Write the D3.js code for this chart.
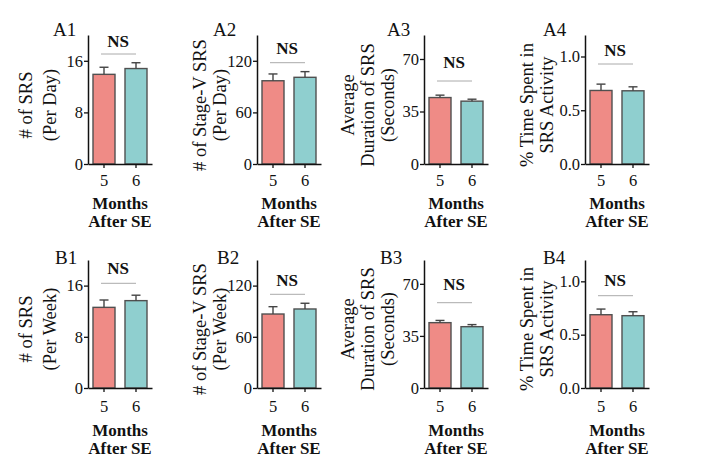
<!DOCTYPE html>
<html><head><meta charset="utf-8">
<script src="https://cdn.jsdelivr.net/npm/d3@7"></script>
<style>body{margin:0;background:#fff}svg{display:block}text{font-family:"Liberation Serif","Times New Roman",serif;fill:#111}</style>
</head><body><svg id="c" width="705" height="473"></svg>
<script>
// ---- data ----
const groups = ["5", "6"];
const panelNames = ["A1","A2","A3","A4","B1","B2","B3","B4"];

const a1Means = [13.9, 14.8],  a1Sem = [1.1, 0.9];
const a2Means = [96.8, 100.8], a2Sem = [7.9, 6.6];
const a3Means = [44.3, 41.9],  a3Sem = [1.6, 1.3];
const a4Means = [0.684, 0.681], a4Sem = [0.059, 0.037];
const b1Means = [12.6, 13.65], b1Sem = [1.15, 0.85];
const b2Means = [86.7, 92.6],  b2Sem = [8.6, 6.7];
const b3Means = [43.9, 41.2],  b3Sem = [1.5, 1.4];
const b4Means = [0.687, 0.678], b4Sem = [0.053, 0.037];

const ticks1 = [0, 8, 16];
const ticks2 = [0, 60, 120];
const ticks3 = [0, 35, 70];
const ticks4 = [0, 0.5, 1.0];
const domMax = [20, 150, 86, 1.2];

const yLabelsA = [["# of SRS","(Per Day)"],["# of Stage-V SRS","(Per Day)"],["Average","Duration of SRS","(Seconds)"],["% Time Spent in","SRS Activity"]];
const yLabelsB = [["# of SRS","(Per Week)"],["# of Stage-V SRS","(Per Week)"],["Average","Duration of SRS","(Seconds)"],["% Time Spent in","SRS Activity"]];
const xLabelLines = ["Months", "After SE"];
const sigText = "NS";

// ---- layout ----
const colX0 = [88, 257, 424, 585];
const rowY = [{top:35, bottom:164, tickDy:18, mDy:39}, {top:260, bottom:388, tickDy:20, mDy:42}];
const ylabX = [[-62,-38],[-57,-37],[-76,-56,-36],[-58,-38]];
const panelLabelX = [[53,213,387,543],[55,217,380,543]];
const panelLabelY = [29, 257];
const nsLineY = [[54,62.7,81,64],[283.3,294.3,302.7,295.7]];
const nsTextDy = [[13,14,19,14],[15,14,18,15]];
const barColors = ["#ef8b86", "#8fcfcf"];
const axisW = 64;

const meansAll = [a1Means,a2Means,a3Means,a4Means,b1Means,b2Means,b3Means,b4Means];
const semAll = [a1Sem,a2Sem,a3Sem,a4Sem,b1Sem,b2Sem,b3Sem,b4Sem];
const ticksAll = [ticks1,ticks2,ticks3,ticks4];

const svg = d3.select("#c");

panelNames.forEach((name, i) => {
  const r = Math.floor(i / 4), c = i % 4;
  const x0 = colX0[c], R = rowY[r];
  const means = meansAll[i], sem = semAll[i];
  const data = groups.map((g, k) => ({g, m: means[k], s: sem[k], k}));

  const x = d3.scaleBand().domain(groups).range([x0, x0 + axisW]).paddingInner(0.3125).paddingOuter(0.15625);
  const y = d3.scaleLinear().domain([0, domMax[c]]).range([R.bottom, R.top]);
  const g = svg.append("g");

  // bars
  g.selectAll("rect.bar").data(data).join("rect").attr("class","bar")
    .attr("x", d => x(d.g)).attr("width", x.bandwidth())
    .attr("y", d => y(d.m)).attr("height", d => y(0) - y(d.m))
    .attr("fill", d => barColors[d.k]).attr("stroke", "#505050").attr("stroke-width", 1.4);

  // error bars (upper)
  const eb = g.selectAll("g.eb").data(data).join("g").attr("class","eb")
    .attr("stroke", "#444").attr("stroke-width", 1.4);
  eb.append("line").attr("x1", d => x(d.g) + x.bandwidth()/2).attr("x2", d => x(d.g) + x.bandwidth()/2)
    .attr("y1", d => y(d.m)).attr("y2", d => y(d.m + d.s));
  eb.append("line").attr("x1", d => x(d.g) + x.bandwidth()/2 - 4.5).attr("x2", d => x(d.g) + x.bandwidth()/2 + 4.5)
    .attr("y1", d => y(d.m + d.s)).attr("y2", d => y(d.m + d.s));

  // axes
  const fmt = c === 3 ? d3.format(".1f") : d3.format("d");
  const ya = g.append("g").attr("transform", `translate(${x0},0)`)
    .call(d3.axisLeft(y).tickValues(ticksAll[c]).tickFormat(fmt).tickSize(4).tickSizeOuter(0).tickPadding(1));
  const xa = g.append("g").attr("transform", `translate(0,${R.bottom})`)
    .call(d3.axisBottom(x).tickSize(4).tickSizeOuter(0).tickPadding(R.tickDy - 12));
  [ya, xa].forEach(a => {
    a.select(".domain").attr("stroke", "#111").attr("stroke-width", 1.5);
    a.selectAll(".tick line").attr("stroke", "#111").attr("stroke-width", 1.3);
    a.selectAll(".tick text").attr("font-size", 16.5).attr("font-family", "Liberation Serif").attr("fill", "#111");
  });

  // NS
  const cx = x0 + axisW / 2;
  const ly = nsLineY[r][c];
  g.append("line").attr("x1", x0 + 13).attr("x2", x0 + 48).attr("y1", ly).attr("y2", ly)
    .attr("stroke", "#aaa").attr("stroke-width", 1);
  g.append("text").attr("x", cx - 2).attr("y", ly - nsTextDy[r][c]).attr("text-anchor","middle")
    .attr("dominant-baseline","central").attr("font-weight","bold").attr("font-size", 17).text(sigText);

  // x label
  xLabelLines.forEach((t, k) => {
    g.append("text").attr("x", cx).attr("y", R.bottom + R.mDy + k * 18).attr("text-anchor","middle")
      .attr("dominant-baseline","central").attr("font-weight","bold").attr("font-size", 17).text(t);
  });

  // y label
  const lines = (r === 0 ? yLabelsA : yLabelsB)[c];
  const yc = R.bottom - 59;
  lines.forEach((t, k) => {
    const lx = x0 + ylabX[c][k];
    g.append("text").attr("transform", `translate(${lx},${yc}) rotate(-90)`).attr("text-anchor","middle")
      .attr("dominant-baseline","central").attr("font-size", 18.5).text(t);
  });

  // panel label
  g.append("text").attr("x", panelLabelX[r][c]).attr("y", panelLabelY[r]).attr("dominant-baseline","central")
    .attr("font-size", 19).text(name);
});
</script>
</body></html>
